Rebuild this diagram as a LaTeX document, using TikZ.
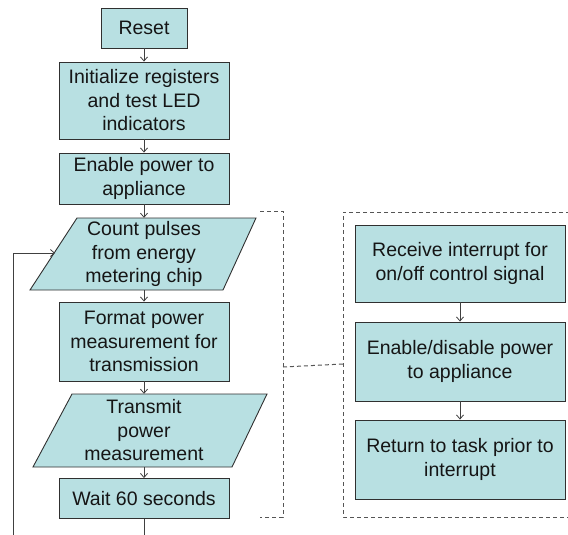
\documentclass[tikz,border=0pt]{standalone}
\usepackage{fontspec}
\setmainfont{Liberation Sans}
\usetikzlibrary{arrows.meta}
\definecolor{boxfill}{HTML}{B8E0E2}
\definecolor{boxline}{HTML}{303030}
\definecolor{txt}{HTML}{151515}
\definecolor{arr}{HTML}{404040}
\definecolor{dash}{HTML}{555555}
\begin{document}
\begin{tikzpicture}[x=1pt,y=-1pt,
  stepbox/.style={draw=boxline,fill=boxfill,line width=0.9pt,inner sep=0pt,
    align=center,text=txt,font=\fontsize{19.5}{23.5}\selectfont},
  iotext/.style={inner sep=0pt,align=center,text=txt,font=\fontsize{19.5}{23.5}\selectfont,minimum width=10pt},
  iobox/.style={draw=boxline,fill=boxfill,line width=0.9pt},
  flow/.style={draw=arr,line width=0.8pt,-{Straight Barb[length=4pt,width=7pt]}},
  plainline/.style={draw=arr,line width=0.8pt},
  dashline/.style={draw=dash,line width=1pt,dash pattern=on 4pt off 3pt}]
\useasboundingbox (0,0) rectangle (568,535);

% left column
\node[stepbox,minimum width=86pt,minimum height=40pt] (reset) at (144,28) {Reset};
\node[stepbox,minimum width=170pt,minimum height=77pt] (init) at (144,100.5)
  {Initialize registers\\and test LED\\indicators};
\node[stepbox,minimum width=170pt,minimum height=51pt] (enable) at (144,178.5)
  {Enable power to\\appliance};

\path[iobox] (77,218) -- (256,218) -- (223,290) -- (30,290) -- cycle;
\node[iotext,minimum height=72pt] (count) at (144,254)
  {Count pulses\\from energy\\metering chip};

\node[stepbox,minimum width=170pt,minimum height=79pt] (format) at (144,341.5)
  {Format power\\measurement for\\transmission};

\path[iobox] (72,394) -- (267,394) -- (232,467) -- (33,467) -- cycle;
\node[iotext,minimum height=73pt] (transmit) at (144,430.5)
  {Transmit\\power\\measurement};

\node[stepbox,minimum width=170pt,minimum height=40pt] (wait) at (144,498.5)
  {Wait 60 seconds};

% right column
\node[stepbox,minimum width=210pt,minimum height=77pt] (recv) at (460,263.5)
  {Receive interrupt for\\on/off control signal};
\node[stepbox,minimum width=210pt,minimum height=79pt] (endis) at (460,361.5)
  {Enable/disable power\\to appliance};
\node[stepbox,minimum width=210pt,minimum height=79pt] (ret) at (460,459.5)
  {Return to task prior to\\interrupt};

% coordinates
\coordinate (waitend) at (144,535);
\coordinate (loopbot) at (13,535);
\coordinate (loopin) at (55,253);
\coordinate (brmid) at (283,367);
\coordinate (rbmid) at (343,364);

% connectors
\draw[flow] (reset) -- (init);
\draw[flow] (init) -- (enable);
\draw[flow] (enable) -- (count);
\draw[flow] (count) -- (format);
\draw[flow] (format) -- (transmit);
\draw[flow] (transmit) -- (wait);
\draw[plainline] (wait) -- (waitend);
\draw[flow] (loopbot) |- (loopin);
\draw[flow] (recv) -- (endis);
\draw[flow] (endis) -- (ret);

% dashed groupings
\draw[dashline] (260,211) -- (283,211) -- (283,517) -- (260,517);
\draw[dashline] (570,212) -- (343,212) -- (343,517) -- (570,517);
\draw[dashline] (brmid) -- (rbmid);
\end{tikzpicture}
\end{document}
